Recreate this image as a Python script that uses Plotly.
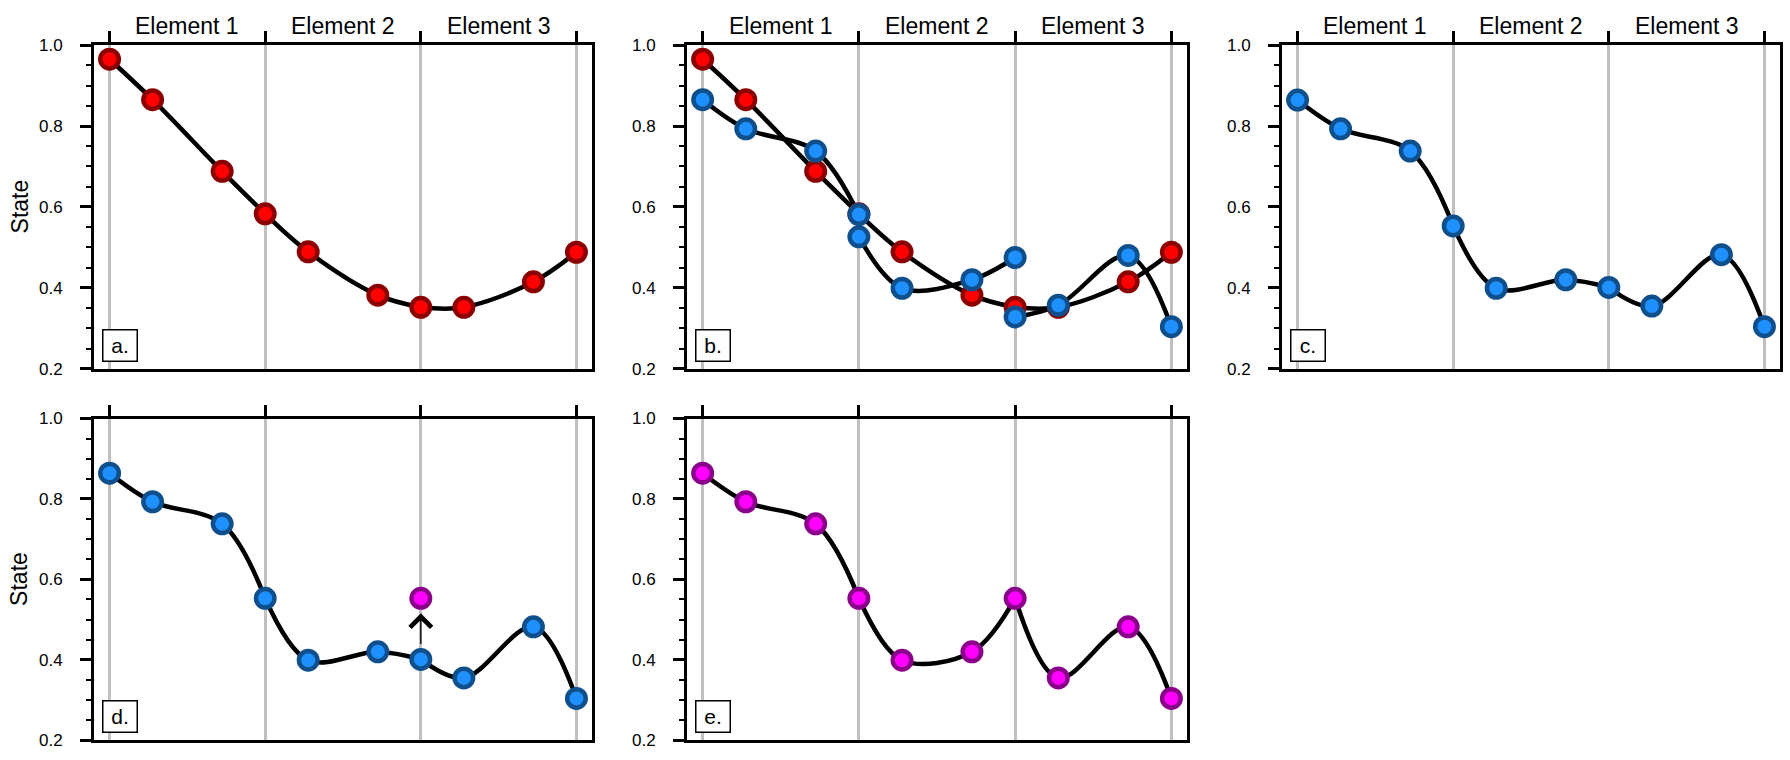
import plotly.graph_objects as go

# ---------------- data ----------------
element_edges = [0, 1, 2, 3]
element_names = ["Element 1", "Element 2", "Element 3"]
gll_nodes = [0.0, 0.2764, 0.7236, 1.0]          # local node positions inside an element

# continuous (shared-node) state, panel a / red in panel b
cg_initial = [0.965, 0.865, 0.688, 0.583, 0.489, 0.382, 0.352, 0.352, 0.415, 0.488]
# discontinuous state, blue in panel b (one list per element)
dg_elem1 = [0.865, 0.793, 0.738, 0.581]
dg_elem2 = [0.526, 0.399, 0.420, 0.475]
dg_elem3 = [0.328, 0.357, 0.480, 0.304]
# projected continuous state, panels c and d
cg_projected = [0.864, 0.793, 0.738, 0.553, 0.399, 0.420, 0.401, 0.355, 0.482, 0.304]
# modified node (panel d) and resulting state (panel e)
modified_x = 2
modified_value = 0.553
cg_modified = [0.864, 0.793, 0.738, 0.553, 0.399, 0.420, 0.553, 0.355, 0.482, 0.304]

y_ticks = [0.2, 0.4, 0.6, 0.8, 1.0]
panel_labels = ["a.", "b.", "c.", "d.", "e."]

# ---------------- styles ----------------
FONT = "Liberation Sans, Arial, Helvetica, sans-serif"
MSIZE = 18.5
MLW = 4.5
RED = dict(color="#ff0000", line=dict(color="#8b0000", width=MLW), size=MSIZE)
BLUE = dict(color="#1e90ff", line=dict(color="#0f4f8c", width=MLW), size=MSIZE)
MAG = dict(color="#ff00ff", line=dict(color="#8b008b", width=MLW), size=MSIZE)
W, H = 1790, 760
col_px = [(94, 592), (687, 1187), (1282, 1780)]
row_px = [(37, 369), (420, 750)]
panel_pos = [(0, 0), (0, 1), (0, 2), (1, 0), (1, 1)]


def cg_xy(values):
    xs, ys = [], []
    for e in range(len(element_edges) - 1):
        for j, g in enumerate(gll_nodes):
            xs.append(element_edges[e] + g)
            ys.append(values[3 * e + j])
        xs.append(None)
        ys.append(None)
    return xs, ys


def cg_nodes(values):
    xs = []
    for e in range(len(element_edges) - 1):
        for j, g in enumerate(gll_nodes):
            if e > 0 and j == 0:
                continue
            xs.append(element_edges[e] + g)
    return xs, list(values)


def dg_xy(elems):
    xs, ys = [], []
    for e, vals in enumerate(elems):
        for g, v in zip(gll_nodes, vals):
            xs.append(element_edges[e] + g)
            ys.append(v)
        xs.append(None)
        ys.append(None)
    return xs, ys


fig = go.Figure()


def ax_names(i):
    s = "" if i == 0 else str(i + 1)
    return "x" + s, "y" + s


def add_curve(i, xs, ys):
    xa, ya = ax_names(i)
    fig.add_trace(go.Scatter(x=xs, y=ys, mode="lines", xaxis=xa, yaxis=ya,
                             line=dict(color="black", width=4.5, shape="spline", smoothing=1.0),
                             connectgaps=False, showlegend=False, hoverinfo="skip"))


def add_markers(i, xs, ys, style):
    xa, ya = ax_names(i)
    fig.add_trace(go.Scatter(x=xs, y=ys, mode="markers", xaxis=xa, yaxis=ya,
                             marker=style, showlegend=False))


dg_all = [dg_elem1, dg_elem2, dg_elem3]

# panel a
add_curve(0, *cg_xy(cg_initial))
add_markers(0, *cg_nodes(cg_initial), RED)
# panel b
add_curve(1, *cg_xy(cg_initial))
add_curve(1, *dg_xy(dg_all))
add_markers(1, *cg_nodes(cg_initial), RED)
dxs, dys = dg_xy(dg_all)
add_markers(1, [x for x in dxs if x is not None], [y for y in dys if y is not None], BLUE)
# panel c
add_curve(2, *cg_xy(cg_projected))
add_markers(2, *cg_nodes(cg_projected), BLUE)
# panel d
add_curve(3, *cg_xy(cg_projected))
add_markers(3, *cg_nodes(cg_projected), BLUE)
add_markers(3, [modified_x], [modified_value], MAG)
# panel e
add_curve(4, *cg_xy(cg_modified))
add_markers(4, *cg_nodes(cg_modified), MAG)

annotations = []
layout = dict(width=W, height=H, margin=dict(l=0, r=0, t=0, b=0),
              plot_bgcolor="white", paper_bgcolor="white",
              font=dict(family=FONT, color="black"))

for i, (r, c) in enumerate(panel_pos):
    xa, ya = ax_names(i)
    x0, x1 = col_px[c]
    y0, y1 = row_px[r]
    xkey = "xaxis" + xa[1:]
    ykey = "yaxis" + ya[1:]
    layout[xkey] = dict(domain=[x0 / W, x1 / W], range=[-0.1, 3.1], anchor=ya, side="top",
                        tickmode="array", tickvals=element_edges, ticks="outside",
                        ticklen=11, tickwidth=2.5, tickcolor="black", showticklabels=False,
                        showgrid=True, gridcolor="#c0c0c0", gridwidth=3,
                        showline=True, linecolor="black", linewidth=3, mirror=True,
                        zeroline=False, fixedrange=True)
    layout[ykey] = dict(domain=[1 - y1 / H, 1 - y0 / H], range=[0.2, 1.0], anchor=xa,
                        tickmode="array", tickvals=y_ticks, ticktext=[f"{v:.1f}" for v in y_ticks],
                        ticks="outside", ticklen=11, tickwidth=2.5, tickcolor="black",
                        ticklabelstandoff=14,
                        tickfont=dict(size=17, family=FONT, color="black"),
                        minor=dict(tickmode="linear", tick0=0.2, dtick=0.05, ticks="outside",
                                   ticklen=5, tickwidth=2, tickcolor="black", showgrid=False),
                        showgrid=False, showline=True, linecolor="black", linewidth=3,
                        mirror=True, zeroline=False, fixedrange=True)
    # panel letter box
    annotations.append(dict(text=panel_labels[i], xref=xa + " domain", yref=ya + " domain",
                            x=8 / (x1 - x0), y=7 / (y1 - y0), xanchor="left", yanchor="bottom",
                            showarrow=False, font=dict(size=21, family=FONT, color="black"),
                            bgcolor="white", bordercolor="black", borderwidth=1.5,
                            borderpad=4, width=25, height=22, align="center"))
    if r == 0:
        for e, name in enumerate(element_names):
            annotations.append(dict(text=name, xref=xa, yref="paper",
                                    x=(element_edges[e] + element_edges[e + 1]) / 2,
                                    y=1 - 17 / H, yanchor="middle", xanchor="center",
                                    showarrow=False,
                                    font=dict(size=23, family=FONT, color="black")))
    if c == 0:
        annotations.append(dict(text="State", xref="paper", yref="paper",
                                x=19.5 / W, y=1 - (y0 + y1) / 2 / H, textangle=-90,
                                xanchor="center", yanchor="middle", showarrow=False,
                                font=dict(size=23, family=FONT, color="black")))

# arrow in panel d: from the old node value up to the modified value
old_val = cg_projected[6]
annotations.append(dict(text="", xref="x4", yref="y4", axref="x4", ayref="y4",
                        x=modified_x, y=modified_value, ax=modified_x, ay=old_val,
                        showarrow=True, arrowhead=4, arrowsize=3.2, arrowwidth=1.3,
                        arrowcolor="black", standoff=15, startstandoff=14))

layout["annotations"] = annotations
fig.update_layout(**layout)
fig.write_html("out.html")
